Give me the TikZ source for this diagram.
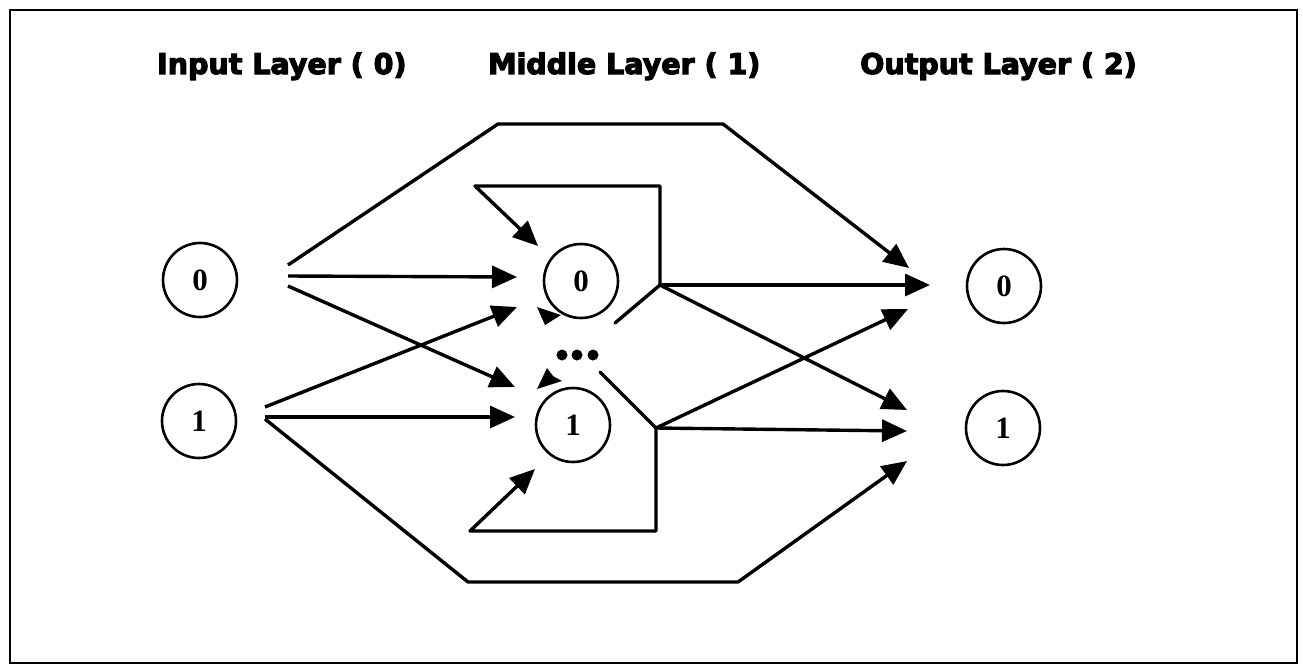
\documentclass[tikz,border=0pt]{standalone}
\usepackage{fontspec}
\newfontfamily\titlefont{DejaVu Sans}[BoldFeatures={FakeBold=4}]
\newfontfamily\numfont{Liberation Serif}
\usetikzlibrary{arrows.meta}
\begin{document}
\begin{tikzpicture}[x=1pt,y=-1pt,
  conn/.style={line width=3.4pt, line join=round, line cap=round},
  arr/.style={line width=3.4pt, line join=round, -{Triangle[length=25pt,width=22pt]}},
  neuron/.style={circle, draw, line width=2.6pt, minimum size=74pt, inner sep=0pt,
    font=\numfont\bfseries\fontsize{31}{31}\selectfont},
  title/.style={anchor=base west, inner sep=0pt,
    font=\titlefont\bfseries\fontsize{28.5}{34}\selectfont}]
\useasboundingbox (0,0) rectangle (1303,667);
\draw[line width=2pt] (10,10) rectangle (1297,663);

% titles
\node[title] (t0) at (157,74) {Input Layer ( 0)};
\node[title] (t1) at (488,74) {Middle Layer ( 1)};
\node[title] (t2) at (860,74) {Output Layer ( 2)};

% neurons
\node[neuron] (in0) at (200,280) {0};
\node[neuron] (in1) at (199,421) {1};
\node[neuron] (m0) at (581,281) {0};
\node[neuron] (m1) at (573,425) {1};
\node[neuron] (out0) at (1004,286) {0};
\node[neuron] (out1) at (1003,428) {1};

% free ends of connectors
\coordinate (s0u) at (288,265);
\coordinate (s0h) at (288,276);
\coordinate (s0d) at (288,286);
\coordinate (s1u) at (265,407);
\coordinate (s1h) at (265,417);
\coordinate (s1d) at (265,419);
\coordinate (m0in) at (517,277);
\coordinate (m0inb) at (517,307);
\coordinate (m1ina) at (515,387);
\coordinate (m1in) at (515,417);
\coordinate (j0) at (660,285);
\coordinate (j1) at (656,428);
\coordinate (o0a) at (909,268);
\coordinate (o0in) at (930,285);
\coordinate (o0b) at (908,309);
\coordinate (o1a) at (907,410);
\coordinate (o1in) at (907,431);
\coordinate (o1b) at (907,461);
\coordinate (m0loop) at (538,246);
\coordinate (m1loop) at (535,469);
\coordinate (j0stub) at (615,323);
\coordinate (j1stub) at (600,372);

% input 0
\draw[arr] (s0u) -- (498,124) -- (723,124) -- (o0a);
\draw[arr] (s0h) -- (m0in);
\draw[arr] (s0d) -- (m1ina);
% input 1
\draw[arr] (s1u) -- (m0inb);
\draw[arr] (s1h) -- (m1in);
\draw[arr] (s1d) -- (468,582) -- (738,582) -- (o1b);

% middle 0
\draw[arr] (j0) -- (660,186) -- (475,186) -- (m0loop);
\draw[arr] (j0) -- (o0in);
\draw[arr] (j0) -- (o1a);
\draw[conn] (j0) -- (j0stub);
% middle 1
\draw[arr] (j1) -- (656,531) -- (470,531) -- (m1loop);
\draw[arr] (j1) -- (o1in);
\draw[arr] (j1) -- (o0b);
\draw[conn] (j1) -- (j1stub);

% partial arrowheads near the hidden units
\fill (537,307) -- (561,315) -- (545,325) -- cycle;
\fill (537,389) -- (547,368) -- (553,376) -- (562,381) -- cycle;

% ellipsis dots
\fill (562,355) circle[radius=5.5pt];
\fill (577,355) circle[radius=5.5pt];
\fill (593,355) circle[radius=5.5pt];
\end{tikzpicture}
\end{document}
